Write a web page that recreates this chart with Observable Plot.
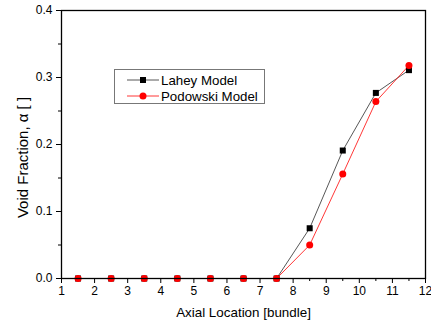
<!DOCTYPE html>
<html><head><meta charset="utf-8">
<script src="https://cdn.jsdelivr.net/npm/d3@7"></script>
<script src="https://cdn.jsdelivr.net/npm/@observablehq/plot@0.6"></script>
<style>
body{margin:0;background:#fff;font-family:"Liberation Sans",Arial,sans-serif;}
#wrap{position:relative;width:431px;height:324px;}
#legend{position:absolute;left:114px;top:69px;width:149px;height:33px;border:1px solid #777;background:#fff;font-size:13.3px;color:#000;}
.row{position:absolute;left:0;height:16px;display:flex;align-items:center;}
</style></head>
<body><div id="wrap"></div>
<script>
const locations = [1.5, 2.5, 3.5, 4.5, 5.5, 6.5, 7.5, 8.5, 9.5, 10.5, 11.5];
const lahey     = [0, 0, 0, 0, 0, 0, 0, 0.075, 0.191, 0.277, 0.311];
const podowski  = [0, 0, 0, 0, 0, 0, 0, 0.050, 0.156, 0.264, 0.318];
const xTicks = [1, 2, 3, 4, 5, 6, 7, 8, 9, 10, 11, 12];
const xMinor = [1.5, 2.5, 3.5, 4.5, 5.5, 6.5, 7.5, 8.5, 9.5, 10.5, 11.5];
const yTicks = [0, 0.1, 0.2, 0.3, 0.4];
const yMinor = [0.05, 0.15, 0.25, 0.35];
const seriesNames = ["Lahey Model", "Podowski Model"];

const L = locations.map((x, i) => ({x, y: lahey[i]}));
const P = locations.map((x, i) => ({x, y: podowski[i]}));

const chart = Plot.plot({
  width: 431, height: 324,
  marginLeft: 61, marginRight: 6, marginTop: 10, marginBottom: 46,
  style: {fontFamily: "'Liberation Sans', Arial, sans-serif", fontSize: "12px", color: "#000", background: "#fff"},
  x: {domain: [1, 12]},
  y: {domain: [0, 0.4]},
  marks: [
    Plot.axisX(xTicks, {tickSize: 5, tickPadding: 3, tickFormat: d => d, fontSize: 12, label: null}),
    Plot.axisX(xMinor, {tickSize: 3, tickFormat: () => "", label: null}),
    Plot.axisY(yTicks, {tickSize: 5, tickPadding: 4, tickFormat: d3.format(".1f"), fontSize: 12, label: null}),
    Plot.axisY(yMinor, {tickSize: 3, tickFormat: () => "", label: null}),
    Plot.text(["Axial Location [bundle]"], {frameAnchor: "bottom", dy: 38, fontSize: 13.4, text: d => d}),
    Plot.text(["Void Fraction, \u03b1 [ ]"], {frameAnchor: "left", textAnchor: "middle", lineAnchor: "middle", dx: -38, dy: 13, rotate: -90, fontSize: 15, text: d => d}),
    Plot.line(L, {x: "x", y: "y", stroke: "#444", strokeWidth: 0.9}),
    Plot.line(P, {x: "x", y: "y", stroke: "#ff2020", strokeWidth: 0.9}),
    Plot.dot(L, {x: "x", y: "y", symbol: "square", r: 3.4, fill: "#000"}),
    Plot.dot(P, {x: "x", y: "y", symbol: "circle", r: 3.5, fill: "#ff0000"}),
    Plot.frame({stroke: "#000", strokeWidth: 1.3})
  ]
});
const wrap = document.getElementById("wrap");
wrap.appendChild(chart);

const leg = document.createElement("div");
leg.id = "legend";
const sym = [
  '<svg width="36" height="16"><line x1="2" y1="8" x2="34" y2="8" stroke="#444" stroke-width="0.9"/><rect x="15" y="5" width="6" height="6" fill="#000"/></svg>',
  '<svg width="36" height="16"><line x1="2" y1="8" x2="34" y2="8" stroke="#ff2020" stroke-width="0.9"/><circle cx="18" cy="8" r="3.5" fill="#f00"/></svg>'
];
seriesNames.forEach((n, i) => {
  const r = document.createElement("div");
  r.className = "row";
  r.style.top = (2 + i * 16) + "px";
  r.style.left = "10px";
  r.innerHTML = sym[i] + '<span style="margin-left:0px">' + n + '</span>';
  leg.appendChild(r);
});
wrap.appendChild(leg);
</script></body></html>
